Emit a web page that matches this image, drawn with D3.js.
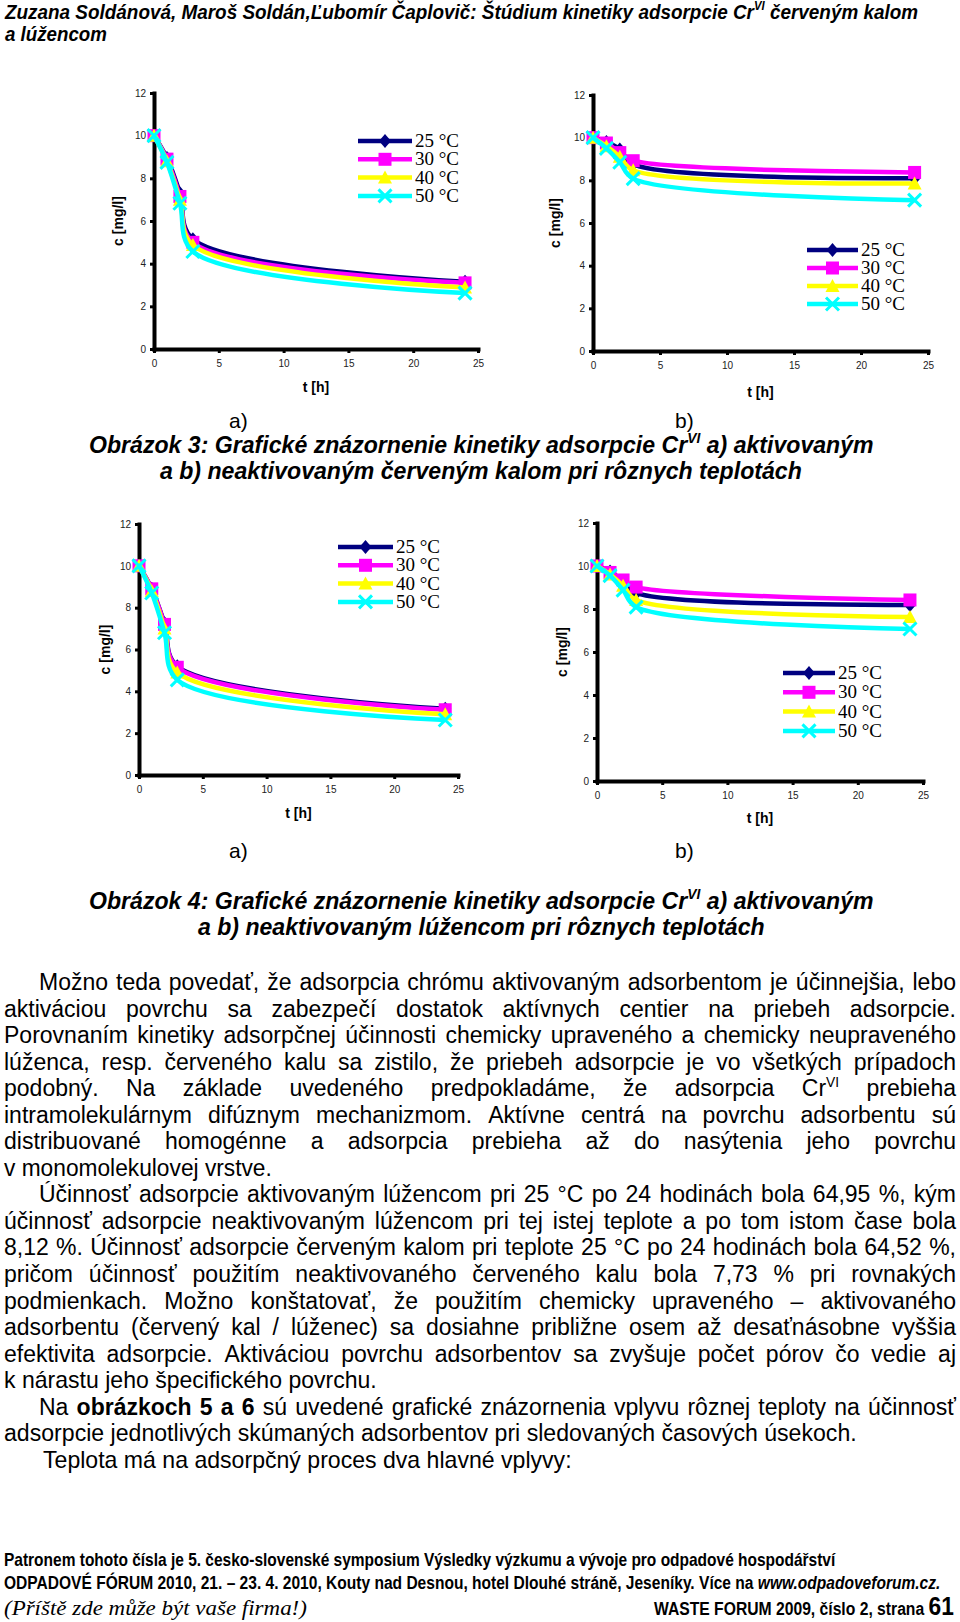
<!DOCTYPE html>
<html><head><meta charset="utf-8">
<script src="https://cdn.jsdelivr.net/npm/d3@7"></script>
<style>body{margin:0;background:#fff}svg{display:block}</style>
</head><body>
<script>
// ---------------- DATA ----------------
const times = [0, 1, 2, 3, 24];
const seriesNames = ["25 °C", "30 °C", "40 °C", "50 °C"];
const xTicks = [0, 5, 10, 15, 20, 25];
const yTicks = [0, 2, 4, 6, 8, 10, 12];
// Obrázok 3a – aktivovaný červený kal
const fig3a = [
  [10, 8.95, 7.3, 5.15, 3.15],
  [10, 8.9, 7.15, 5.0, 3.1],
  [10, 8.8, 7.0, 4.87, 2.88],
  [10, 8.75, 6.83, 4.57, 2.62]
];
// Obrázok 3b – neaktivovaný červený kal
const fig3b = [
  [10, 9.8, 9.45, 8.75, 8.1],
  [10, 9.75, 9.3, 8.92, 8.37],
  [10, 9.6, 9.1, 8.47, 7.85],
  [10, 9.5, 8.85, 8.08, 7.07]
];
// Obrázok 4a – aktivovaný lúženec
const fig4a = [
  [10, 8.9, 7.25, 5.2, 3.17],
  [10, 8.9, 7.2, 5.15, 3.12],
  [10, 8.8, 7.0, 4.9, 2.9],
  [10, 8.7, 6.8, 4.55, 2.63]
];
// Obrázok 4b – neaktivovaný lúženec
const fig4b = [
  [10, 9.75, 9.3, 8.75, 8.19],
  [10, 9.7, 9.35, 9.02, 8.42],
  [10, 9.6, 9.08, 8.42, 7.63],
  [10, 9.55, 8.88, 8.09, 7.07]
];
const colors = ["#000080", "#ff00ff", "#ffff00", "#00ffff"];

// ---------------- TEXTS ----------------
const headerLines = [
  [{t:"Zuzana Soldánová, Maroš Soldán,Ľubomír Čaplovič: Štúdium kinetiky adsorpcie Cr"},{t:"VI",sup:true},{t:" červeným kalom"}],
  [{t:"a lúžencom"}]
];
const cap3 = [
  [{t:"Obrázok 3: Grafické znázornenie kinetiky adsorpcie Cr"},{t:"VI",sup:true},{t:" a) aktivovaným"}],
  [{t:"a b) neaktivovaným červeným kalom pri rôznych teplotách"}]
];
const cap4 = [
  [{t:"Obrázok 4: Grafické znázornenie kinetiky adsorpcie Cr"},{t:"VI",sup:true},{t:" a) aktivovaným"}],
  [{t:"a b) neaktivovaným lúžencom pri rôznych teplotách"}]
];
// [segments, indent, justify]
const bodyLines = [
  [[{t:"Možno teda povedať, že adsorpcia chrómu aktivovaným adsorbentom je účinnejšia, lebo"}], 1, 1],
  [[{t:"aktiváciou povrchu sa zabezpečí dostatok aktívnych centier na priebeh adsorpcie."}], 0, 1],
  [[{t:"Porovnaním kinetiky adsorpčnej účinnosti chemicky upraveného a chemicky neupraveného"}], 0, 1],
  [[{t:"lúženca, resp. červeného kalu sa zistilo, že priebeh adsorpcie je vo všetkých prípadoch"}], 0, 1],
  [[{t:"podobný. Na základe uvedeného predpokladáme, že adsorpcia Cr"},{t:"VI",sup:true},{t:" prebieha"}], 0, 1],
  [[{t:"intramolekulárnym difúznym mechanizmom. Aktívne centrá na povrchu adsorbentu sú"}], 0, 1],
  [[{t:"distribuované homogénne a adsorpcia prebieha až do nasýtenia jeho povrchu"}], 0, 1],
  [[{t:"v monomolekulovej vrstve."}], 0, 0],
  [[{t:"Účinnosť adsorpcie aktivovaným lúžencom pri 25 °C po 24 hodinách bola 64,95 %, kým"}], 1, 1],
  [[{t:"účinnosť adsorpcie neaktivovaným lúžencom pri tej istej teplote a po tom istom čase bola"}], 0, 1],
  [[{t:"8,12 %. Účinnosť adsorpcie červeným kalom pri teplote 25 °C po 24 hodinách bola 64,52 %,"}], 0, 1],
  [[{t:"pričom účinnosť použitím neaktivovaného červeného kalu bola 7,73 % pri rovnakých"}], 0, 1],
  [[{t:"podmienkach. Možno konštatovať, že použitím chemicky upraveného – aktivovaného"}], 0, 1],
  [[{t:"adsorbentu (červený kal / lúženec) sa dosiahne približne osem až desaťnásobne vyššia"}], 0, 1],
  [[{t:"efektivita adsorpcie. Aktiváciou povrchu adsorbentov sa zvyšuje počet pórov čo vedie aj"}], 0, 1],
  [[{t:"k nárastu jeho špecifického povrchu."}], 0, 0],
  [[{t:"Na "},{t:"obrázkoch 5 a 6",b:true},{t:" sú uvedené grafické znázornenia vplyvu rôznej teploty na účinnosť"}], 1, 1],
  [[{t:"adsorpcie jednotlivých skúmaných adsorbentov pri sledovaných časových úsekoch."}], 0, 0],
  [[{t:"Teplota má na adsorpčný proces dva hlavné vplyvy:"}], 2, 0]
];
const footer1 = [{t:"Patronem tohoto čísla je 5. česko-slovenské symposium Výsledky výzkumu a vývoje pro odpadové hospodářství"}];
const footer2 = [{t:"ODPADOVÉ FÓRUM 2010, 21. – 23. 4. 2010, Kouty nad Desnou, hotel Dlouhé stráně, Jeseníky. Více na "},{t:"www.odpadoveforum.cz.",i:true}];
const footer3 = "(Příště zde může být vaše firma!)";
const footer4 = [{t:"WASTE FORUM 2009, číslo 2, strana "},{t:"61",big:true}];

// ---------------- LAYOUT ----------------
const W = 960, H = 1622;
const svg = d3.select("body").append("svg").attr("width", W).attr("height", H);
const SANS = "'Liberation Sans Narrow','Arial Narrow','Liberation Sans',Arial,sans-serif";
const SERIF = "'Liberation Serif','Times New Roman',serif";

function makeText(parent, segs, o) {
  const t = parent.append("text").attr("x", 0).attr("y", o.y)
    .style("font-family", o.family || SANS).style("font-size", o.size + "px")
    .style("font-weight", o.weight || "normal").style("font-style", o.style || "normal")
    .attr("fill", "#000");
  let shift = 0;
  segs.forEach(s => {
    const ts = t.append("tspan").text(s.t);
    if (s.b) ts.style("font-weight", "bold");
    if (s.i) ts.style("font-style", "italic");
    if (s.big) ts.style("font-size", (o.size * 1.45) + "px").style("font-family", "'Liberation Sans',Arial,sans-serif").style("font-weight","bold");
    if (s.sup) {
      const d = -o.size * 0.42;
      ts.attr("dy", d - shift).style("font-size", (o.size * 0.6) + "px");
      shift = d;
    } else if (shift !== 0) {
      ts.attr("dy", -shift); shift = 0;
    }
  });
  return t;
}
function fitLine(parent, segs, o) {
  const t = makeText(parent, segs, o);
  const w = t.node().getComputedTextLength();
  const sx = (o.x1 - o.x0) / w;
  t.attr("transform", `translate(${o.x0},0) scale(${sx},1)`);
  return sx;
}
function justifyLine(parent, segs, o, sx) {
  const words = [];
  let cur = [];
  segs.forEach(s => {
    const parts = s.t.split(" ");
    parts.forEach((p, k) => {
      if (k > 0) { if (cur.length) words.push(cur); cur = []; }
      if (p.length) cur.push(Object.assign({}, s, {t: p}));
    });
  });
  if (cur.length) words.push(cur);
  const g = parent.append("g").attr("transform", `translate(${o.x0},0) scale(${sx},1)`);
  const nodes = words.map(wd => makeText(g, wd, o));
  const widths = nodes.map(n => n.node().getComputedTextLength());
  const total = d3.sum(widths);
  const target = (o.x1 - o.x0) / sx;
  const gap = (target - total) / (words.length - 1);
  let x = 0;
  nodes.forEach((n, i) => { n.attr("x", x); x += widths[i] + gap; });
}

// header
fitLine(svg, headerLines[0], {x0: 5, x1: 919, y: 19, size: 21, weight: "bold", style: "italic"});
fitLine(svg, headerLines[1], {x0: 5, x1: 107, y: 41, size: 21, weight: "bold", style: "italic"});

// ---------------- CHARTS ----------------
const panels = [
  {data: fig3a, x0: 154, x1: 478, y0: 349, y1: 93, legX: 358, legW: 54, legTop: 141, legStep: 18.3, titleDy: 43, yTitleDx: -36},
  {data: fig3b, x0: 593, x1: 928, y0: 351, y1: 95, legX: 807, legW: 51, legTop: 250, legStep: 18, titleDy: 46, yTitleDx: -38},
  {data: fig4a, x0: 139, x1: 458, y0: 775, y1: 524, legX: 338, legW: 55, legTop: 547, legStep: 18.3, titleDy: 43, yTitleDx: -34},
  {data: fig4b, x0: 597, x1: 923, y0: 781, y1: 523, legX: 783, legW: 52, legTop: 673, legStep: 19.3, titleDy: 42, yTitleDx: -35}
];

function marker(g, i, cx, cy) {
  const c = colors[i];
  if (i === 0) g.append("path").attr("d", "M0,-7L6,0L0,7L-6,0Z").attr("fill", c).attr("transform", `translate(${cx},${cy})`);
  else if (i === 1) g.append("path").attr("d", "M-6.5,-6.5H6.5V6.5H-6.5Z").attr("fill", c).attr("transform", `translate(${cx},${cy})`);
  else if (i === 2) g.append("path").attr("d", "M0,-7L7,6L-7,6Z").attr("fill", c).attr("transform", `translate(${cx},${cy})`);
  else g.append("path").attr("d", "M-6.5,-6.5L6.5,6.5M6.5,-6.5L-6.5,6.5").attr("stroke", c).attr("stroke-width", 3).attr("fill", "none").attr("transform", `translate(${cx},${cy})`);
}

panels.forEach(p => {
  const g = svg.append("g");
  const x = d3.scaleLinear().domain([0, 25]).range([p.x0, p.x1]);
  const y = d3.scaleLinear().domain([0, 12]).range([p.y0, p.y1]);

  const gx = g.append("g").attr("transform", `translate(0,${p.y0})`)
    .call(d3.axisBottom(x).tickValues(xTicks).tickSize(4).tickSizeOuter(0).tickPadding(7));
  const gy = g.append("g").attr("transform", `translate(${p.x0},0)`)
    .call(d3.axisLeft(y).tickValues(yTicks).tickSize(4).tickSizeOuter(0).tickPadding(4));
  [gx, gy].forEach(a => {
    a.select(".domain").attr("stroke", "#000").attr("stroke-width", 4).attr("stroke-linecap", "square");
    a.selectAll(".tick line").attr("stroke", "#000").attr("stroke-width", 3);
    a.selectAll(".tick text").style("font-family", "'Liberation Sans',Arial,sans-serif").style("font-size", "10px").attr("fill", "#222");
  });

  g.append("text").attr("x", (p.x0 + p.x1) / 2).attr("y", p.y0 + p.titleDy).attr("text-anchor", "middle")
    .style("font-family", "'Liberation Sans',Arial,sans-serif").style("font-size", "14px").style("font-weight", "bold").text("t [h]");
  g.append("text").attr("transform", `translate(${p.x0 + p.yTitleDx},${(p.y0 + p.y1) / 2}) rotate(-90)`)
    .attr("text-anchor", "middle").attr("dy", "0.35em")
    .style("font-family", "'Liberation Sans',Arial,sans-serif").style("font-size", "14px").style("font-weight", "bold").text("c [mg/l]");

  const line = d3.line().x((d, i) => x(times[i])).y(d => y(d)).curve(d3.curveCatmullRom.alpha(0.5));
  p.data.forEach((s, i) => {
    g.append("path").attr("d", line(s)).attr("fill", "none").attr("stroke", colors[i]).attr("stroke-width", 4.5).attr("stroke-linejoin", "round");
    s.forEach((v, k) => marker(g, i, x(times[k]), y(v)));
  });

  // legend
  seriesNames.forEach((name, i) => {
    const ly = p.legTop + i * p.legStep;
    g.append("line").attr("x1", p.legX).attr("x2", p.legX + p.legW).attr("y1", ly).attr("y2", ly)
      .attr("stroke", colors[i]).attr("stroke-width", 4.5);
    marker(g, i, p.legX + p.legW / 2, ly);
    g.append("text").attr("x", p.legX + p.legW + 3).attr("y", ly + 6)
      .style("font-family", SERIF).style("font-size", "19px").text(name);
  });
});

// a) b) labels
const lab = [["a)", 229, 428], ["b)", 675, 428], ["a)", 229, 858], ["b)", 675, 858]];
lab.forEach(l => svg.append("text").attr("x", l[1]).attr("y", l[2]).style("font-family", "'Liberation Sans',Arial,sans-serif").style("font-size", "21px").text(l[0]));

// captions
fitLine(svg, cap3[0], {x0: 89, x1: 874, y: 453, size: 24, weight: "bold", style: "italic"});
fitLine(svg, cap3[1], {x0: 160, x1: 802, y: 479, size: 24, weight: "bold", style: "italic"});
fitLine(svg, cap4[0], {x0: 89, x1: 874, y: 909, size: 24, weight: "bold", style: "italic"});
fitLine(svg, cap4[1], {x0: 198, x1: 765, y: 935, size: 24, weight: "bold", style: "italic"});

// body text
const bodyTop = 990, bodyStep = 26.55, bodySize = 23;
const indents = [4, 39, 43];
const plainEnds = {7: 272, 15: 377, 17: 857, 18: 572};
const sxs = [];
bodyLines.forEach((L, i) => {
  if (!L[2]) sxs.push(fitLine(svg, L[0], {x0: indents[L[1]], x1: plainEnds[i], y: bodyTop + i * bodyStep, size: bodySize}));
});
const bodySx = d3.mean(sxs);
bodyLines.forEach((L, i) => {
  if (L[2]) justifyLine(svg, L[0], {x0: indents[L[1]], x1: 956, y: bodyTop + i * bodyStep, size: bodySize}, bodySx);
});

// footer
fitLine(svg, footer1, {x0: 4, x1: 836, y: 1566, size: 18, weight: "bold"});
fitLine(svg, footer2, {x0: 4, x1: 941, y: 1589, size: 18, weight: "bold"});
fitLine(svg, [{t: footer3}], {x0: 4, x1: 307, y: 1615, size: 21, style: "italic", family: SERIF});
fitLine(svg, footer4, {x0: 654, x1: 954, y: 1615, size: 18, weight: "bold"});
</script>
</body></html>
